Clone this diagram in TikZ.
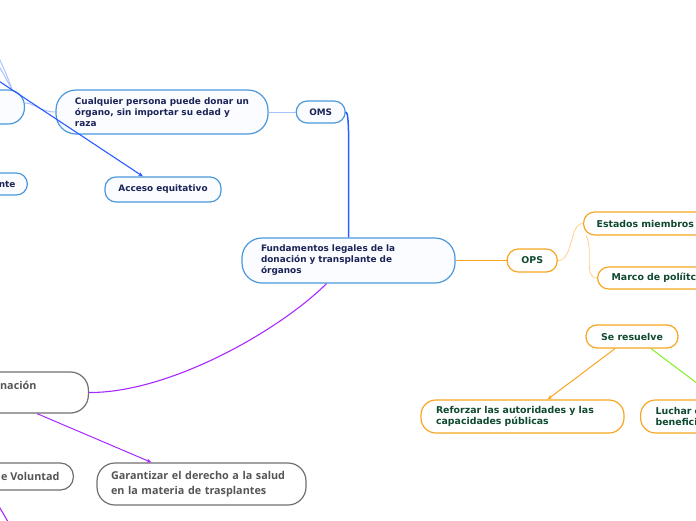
\documentclass[tikz,border=0pt]{standalone}
\usepackage{fontspec}
\setmainfont{DejaVu Sans}
\newfontfamily\grayfont{Open Sans}
\usetikzlibrary{arrows.meta,positioning}
\definecolor{bluebd}{HTML}{4A98DA}
\definecolor{bluetx}{HTML}{1B2456}
\definecolor{bluefl}{HTML}{FAFCFF}
\definecolor{bluelk}{HTML}{2A5CFF}
\definecolor{bluelt}{HTML}{A9C2FF}
\definecolor{orgbd}{HTML}{F6A623}
\definecolor{orgtx}{HTML}{0F4A30}
\definecolor{orglt}{HTML}{FFD08A}
\definecolor{grnlk}{HTML}{80F020}
\definecolor{purlk}{HTML}{A828FF}
\definecolor{graybd}{HTML}{707070}
\definecolor{graytx}{HTML}{555555}
\tikzset{
  box/.style={draw, line width=1.2pt, rounded corners=11pt, align=left, inner sep=0pt, fill=white},
  bluebox/.style={box, draw=bluebd, fill=bluefl, text=bluetx, font=\fontsize{8.9}{11}\selectfont\bfseries},
  orgbox/.style={box, draw=orgbd, text=orgtx, font=\fontsize{9.4}{11.5}\selectfont\bfseries},
  graybox/.style={box, draw=graybd, text=graytx, font=\grayfont\fontsize{10.8}{15}\selectfont\bfseries},
  arr/.style={-{Stealth[length=5pt,width=4pt]}},
  bluelink/.style={draw=bluelk, line width=1.5pt},
  bluearr/.style={arr, draw=bluelk, line width=1.1pt},
  thinblue/.style={draw=bluelt, line width=1pt},
  orglink/.style={draw=orgbd, line width=1.1pt},
  orgthin/.style={draw=orglt, line width=0.8pt},
  orgarr/.style={arr, draw=orgbd, line width=1pt},
  grnlink/.style={draw=grnlk, line width=1pt},
  purlink/.style={draw=purlk, line width=1.1pt},
  purarr/.style={arr, draw=purlk, line width=1pt}}
\begin{document}
\begin{tikzpicture}[x=1pt, y=-1pt]
  \useasboundingbox (0,0) rectangle (696,520);
  \clip (0,0) rectangle (696,520);
  % centre
  \node[bluebox, text width=175pt, inner xsep=19pt, minimum height=45pt, rounded corners=20pt] (fund) at (348.5,260.5) {Fundamentos legales de la\\donación y transplante de\\órganos};
  % OMS branch
  \node[bluebox, minimum width=212pt, minimum height=44pt, rounded corners=20pt] (cualq) at (162,112) {Cualquier persona puede donar un\\órgano, sin importar su edad y\\raza};
  \node[bluebox, minimum width=49pt, minimum height=22pt, right=27pt of cualq] (oms) {OMS};
  \node[bluebox, minimum width=116pt, minimum height=25pt] (acceso) at (163,189.5) {Acceso equitativo};
  \node[bluebox, anchor=east, minimum width=110pt, minimum height=34pt, rounded corners=16pt] (prev) at (25,107) {};
  \node[bluebox, anchor=east, inner xsep=12pt, minimum height=22pt] (nte) at (28,184) {nte};
  \coordinate (upA) at (-4,52);
  \coordinate (upB) at (-6,57);
  \coordinate (src) at (-30,62);
  % OPS branch
  \node[orgbox, minimum width=50pt, minimum height=23pt, right=51pt of fund] (ops) {OPS};
  \node[orgbox, anchor=west, text width=160pt, inner xsep=13pt, minimum height=23pt] (estados) at (583,223.5) {Estados miembros};
  \node[orgbox, anchor=west, text width=160pt, inner xsep=14pt, minimum height=22pt] (marco) at (597,278) {Marco de políitc};
  \node[orgbox, minimum width=92pt, minimum height=23pt] (resuelve) at (632,336.5) {Se resuelve};
  \node[orgbox, text width=173pt, inner xsep=15pt, minimum height=33pt, rounded corners=15pt] (reforzar) at (522.5,416.5) {Reforzar las autoridades y las\\capacidades públicas};
  \node[orgbox, anchor=west, text width=170pt, inner xsep=15pt, minimum height=33pt, rounded corners=15pt] (luchar) at (640,416.5) {Luchar c\\benefici};
  % gray branch
  \node[graybox, anchor=east, inner xsep=52pt, minimum height=41pt, rounded corners=18pt] (donacion) at (89,392.5) {nación\\\mbox{}};
  \node[graybox, anchor=east, inner xsep=14pt, minimum height=27pt, rounded corners=13pt] (voluntad) at (74,476.5) {e Voluntad};
  \node[graybox, text width=181pt, inner xsep=14pt, minimum height=42pt, rounded corners=18pt] (garantizar) at (201.5,484) {Garantizar el derecho a la salud\\en la materia de trasplantes};
  \coordinate (downA) at (-10,491);
  \coordinate (downB) at (14,532);

  \draw[bluelink] (oms.east) .. controls +(4,0) and +(0,-90) .. (fund.north);
  \draw[thinblue] (oms) -- (cualq);
  \draw[thinblue] (cualq.west) .. controls (40,112) and (35,103) .. ([yshift=4pt]prev.east);
  \draw[thinblue] ([xshift=-13pt]prev.north east) .. controls (8,78) and (3,66) .. (upA);
  \draw[thinblue] ([xshift=-13pt]prev.north east) -- (upB);
  \draw[bluearr] (src) -- ([xshift=-20pt]acceso.north);
  \draw[orglink] (fund) -- (ops);
  \draw[orgthin] (ops.east) .. controls +(16,0) and +(-14,0) .. (estados.west);
  \draw[orgthin] ([xshift=3pt]estados.south west) .. controls +(8,14) and +(-14,0) .. (marco.west);
  \draw[orgarr] ([xshift=-17pt]resuelve.south) -- ([xshift=25pt]reforzar.north);
  \draw[grnlink] ([xshift=19pt]resuelve.south) -- ([xshift=-22pt]luchar.north);
  \draw[purlink] ([xshift=-22pt]fund.south) .. controls (280,330) and (170,393) .. (donacion.east);
  \draw[purarr] ([xshift=-52pt]donacion.south east) -- ([xshift=-50pt]garantizar.north);
  \draw[purlink] (downA) -- (downB);
\end{tikzpicture}
\end{document}
